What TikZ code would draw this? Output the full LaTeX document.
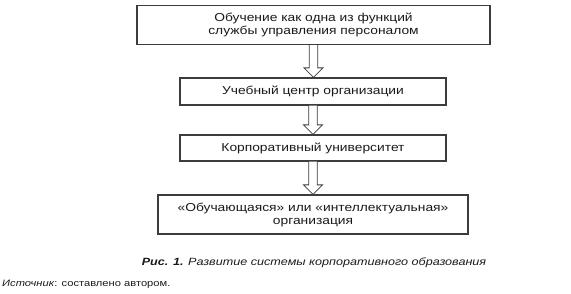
\documentclass[tikz,border=0pt]{standalone}
\usepackage{fontspec}
\setmainfont{Liberation Sans}[FakeStretch=1.2]
\usetikzlibrary{calc}
\definecolor{Ink}{HTML}{1A1A1A}
\definecolor{Frame}{HTML}{3C3C3C}
\tikzset{
  stage/.style={draw=Frame,line width=1.3pt,fill=white,inner sep=0pt,align=center,
    text=Ink,font=\fontsize{11.5}{13}\selectfont},
  blockarr/.style={draw=Frame,line width=0.8pt,fill=white,line join=miter,
    to path={let \p1=(\tikztostart),\p2=(\tikztotarget) in
      (\x1-4.2pt,\y1) -- (\x1-4.2pt,\y2+9.5pt) -- (\x1-9.5pt,\y2+9.5pt) -- (\x1,\y2)
      -- (\x1+9.5pt,\y2+9.5pt) -- (\x1+4.2pt,\y2+9.5pt) -- (\x1+4.2pt,\y1)}}
}
\begin{document}
\begin{tikzpicture}[x=1pt,y=-1pt]
\useasboundingbox (0,0) rectangle (571,293);
\node[stage,minimum width=353pt,minimum height=39pt] (b1) at (313.5,25) {Обучение как одна из функций\\службы управления персоналом};
\node[stage,minimum width=266pt,minimum height=27pt] (b2) at (313,91.5) {Учебный центр организации};
\node[stage,minimum width=266pt,minimum height=26pt] (b3) at (313,148) {Корпоративный университет};
\node[stage,minimum width=310pt,minimum height=39pt] (b4) at (313,214.5) {«Обучающаяся» или «интеллектуальная»\\организация};
\draw[blockarr] (b1.south) to (b2.north);
\draw[blockarr] (b2.south) to (b3.north);
\draw[blockarr] (b3.south) to (b4.north);
% caption and source
\node[text=Ink,font=\fontsize{10.5}{12}\selectfont\itshape] (cap) at (314,263) {\textbf{Рис. 1.} Развитие системы корпоративного образования};
\node[anchor=west,text=Ink,font=\fontsize{9.3}{11}\selectfont,inner sep=0pt] (src) at (2,284) {\textit{Источник}: составлено автором.};
\end{tikzpicture}
\end{document}
